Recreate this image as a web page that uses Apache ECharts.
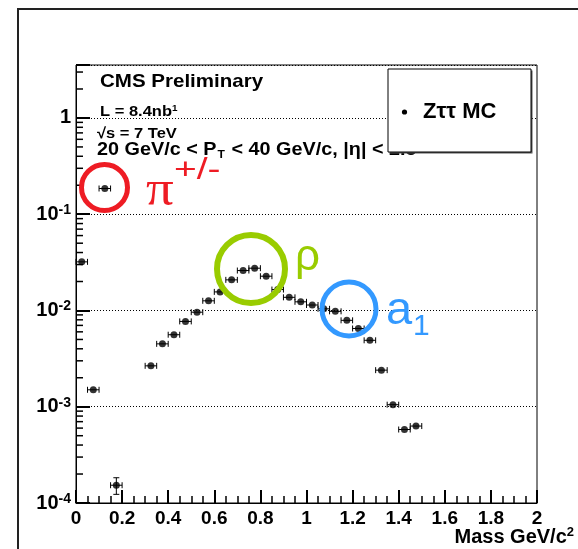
<!DOCTYPE html>
<html>
<head>
<meta charset="utf-8">
<script src="https://cdn.jsdelivr.net/npm/echarts@6/dist/echarts.min.js"></script>
<style>
html,body{margin:0;padding:0;background:#fff;}
#chart{width:578px;height:549px;}
</style>
</head>
<body>
<div id="chart"></div>
<script>
// ---- data ----
const massBins = [0.025, 0.075, 0.125, 0.175,
  0.325, 0.375, 0.425, 0.475, 0.525, 0.575, 0.625, 0.675, 0.725, 0.775,
  0.825, 0.875, 0.925, 0.975, 1.025, 1.075, 1.125, 1.175, 1.225, 1.275,
  1.325, 1.375, 1.425, 1.475];
const fractions = [0.032, 0.0015, 0.185, 0.000153,
  0.00266, 0.0045, 0.0056, 0.0077, 0.0096, 0.0126, 0.0156, 0.0208, 0.026, 0.0275,
  0.0227, 0.0165, 0.0137, 0.0123, 0.0114, 0.0104, 0.0098, 0.0079, 0.0065, 0.0049,
  0.0024, 0.00105, 0.00058, 0.00063];
const massHalfWidth = [0.025, 0.025, 0.025, 0.025,
  0.025, 0.025, 0.025, 0.025, 0.025, 0.025, 0.025, 0.025, 0.025, 0.025,
  0.025, 0.025, 0.025, 0.025, 0.025, 0.025, 0.025, 0.025, 0.025, 0.025,
  0.025, 0.025, 0.025, 0.025];
const fractionErr = [0, 0, 0, 0.00003,
  0, 0, 0, 0, 0, 0, 0, 0, 0, 0,
  0, 0, 0, 0, 0, 0, 0, 0, 0, 0,
  0, 0, 0, 0];
const seriesName = 'Z\u03c4\u03c4 MC';
const xTickLabels = ['0', '0.2', '0.4', '0.6', '0.8', '1', '1.2', '1.4', '1.6', '1.8', '2'];
const xMajorStep = 0.2;
const yMantissas = [2, 3, 4, 5, 6, 7, 8, 9];
const yDecades = [-4, -3, -2, -1, 0];
// ---------------------------------------

const yMinorTicks = [];
yDecades.forEach(d => yMantissas.forEach(m => {
  const v = m * Math.pow(10, d);
  if (v < 3.55) yMinorTicks.push(v);
}));

const FONT = '"Liberation Sans", Arial, Helvetica, sans-serif';
const TICK = '#000';
const chart = echarts.init(document.getElementById('chart'));

const pointData = massBins.map((m, i) => [m, fractions[i], massHalfWidth[i], fractionErr[i]]);

const option = {
  animation: false,
  backgroundColor: '#fff',
  grid: {left: 76, top: 65, right: 41, bottom: 46, show: true, borderColor: '#000', borderWidth: 1},
  xAxis: {
    type: 'value', min: 0, max: 2, interval: xMajorStep,
    axisLine: {show: true, onZero: false, lineStyle: {color: '#000', width: 1}},
    axisTick: {show: true, inside: true, length: 13, lineStyle: {color: TICK, width: 2}},
    minorTick: {show: true, splitNumber: 4, length: 7, lineStyle: {color: TICK, width: 1.5}},
    splitLine: {show: false},
    axisLabel: {
      color: '#000', fontFamily: FONT, fontWeight: 'bold', fontSize: 19, margin: 6,
      formatter: v => xTickLabels[Math.round(v / xMajorStep)] || ''
    }
  },
  yAxis: {
    type: 'log', logBase: 10, min: 1e-4, max: 3.55,
    axisLine: {show: true, lineStyle: {color: '#000', width: 1}},
    axisTick: {show: true, inside: true, length: 14, lineStyle: {color: TICK, width: 2}},
    splitLine: {show: true, lineStyle: {color: '#000', width: 1, type: [1, 2]}},
    axisLabel: {
      color: '#000', margin: 5,
      formatter: v => {
        const e = Math.log10(v), r = Math.round(e);
        if (Math.abs(e - r) > 0.01) return '';
        if (r === 0) return '{b|1}';
        return '{b|10}{s|' + r + '}';
      },
      rich: {
        b: {fontFamily: FONT, fontWeight: 'bold', fontSize: 20, lineHeight: 22, color: '#000'},
        s: {fontFamily: FONT, fontWeight: 'bold', fontSize: 14, lineHeight: 13, verticalAlign: 'top', color: '#000'}
      }
    }
  },
  series: [
    {
      type: 'custom', name: 'yMinorTicks', silent: true,
      data: yMinorTicks.map(v => [0, v]),
      renderItem: (params, api) => {
        const p = api.coord([0, api.value(1)]);
        return {type: 'group', children: [{type: 'line', shape: {x1: p[0], y1: p[1], x2: p[0] + 7, y2: p[1]}, style: {stroke: TICK, lineWidth: 1.5}}]};
      }
    },
    {
      type: 'custom', name: seriesName + ' errors', silent: true, z: 4,
      data: pointData,
      renderItem: (params, api) => {
        const x = api.value(0), y = api.value(1), ex = api.value(2), ey = api.value(3);
        const c = api.coord([x, y]);
        const l = api.coord([x - ex, y]);
        const r = api.coord([x + ex, y]);
        const st = {stroke: '#000', lineWidth: 1};
        const ch = [
          {type: 'line', shape: {x1: l[0], y1: c[1], x2: r[0], y2: c[1]}, style: st},
          {type: 'line', shape: {x1: l[0], y1: c[1] - 3, x2: l[0], y2: c[1] + 3}, style: st},
          {type: 'line', shape: {x1: r[0], y1: c[1] - 3, x2: r[0], y2: c[1] + 3}, style: st}
        ];
        if (ey > 0) {
          const t = api.coord([x, y + ey]), b = api.coord([x, y - ey]);
          ch.push({type: 'line', shape: {x1: c[0], y1: t[1], x2: c[0], y2: b[1]}, style: st});
          ch.push({type: 'line', shape: {x1: c[0] - 3, y1: t[1], x2: c[0] + 3, y2: t[1]}, style: st});
          ch.push({type: 'line', shape: {x1: c[0] - 3, y1: b[1], x2: c[0] + 3, y2: b[1]}, style: st});
        }
        return {type: 'group', children: ch};
      }
    },
    {
      type: 'scatter', name: seriesName, z: 5,
      symbol: 'circle', symbolSize: 7,
      itemStyle: {color: '#000'},
      data: pointData.map(d => [d[0], d[1]])
    }
  ],
  graphic: [
    {type: 'rect', shape: {x: 18, y: 9, width: 620, height: 620}, style: {fill: 'none', stroke: '#222', lineWidth: 2}, z: 1},
    {type: 'text', x: 100, y: 82, scaleX: 1.08, z: 10,
      style: {text: 'CMS Preliminary', font: 'bold 19px ' + FONT, fill: '#000', verticalAlign: 'middle'}},
    {type: 'text', x: 100, y: 112, scaleX: 1.1, z: 10,
      style: {text: '{b|L = 8.4nb}{s|1}', verticalAlign: 'middle',
        rich: {b: {fontFamily: FONT, fontWeight: 'bold', fontSize: 15, lineHeight: 16, fill: '#000'},
               s: {fontFamily: FONT, fontWeight: 'bold', fontSize: 9, lineHeight: 9, verticalAlign: 'top', fill: '#000'}}}},
    {type: 'text', x: 97, y: 134, scaleX: 1.1, z: 10,
      style: {text: '\u221as = 7 TeV', font: 'bold 15px ' + FONT, fill: '#000', verticalAlign: 'middle'}},
    {type: 'text', x: 97, y: 150, scaleX: 1.1, z: 10,
      style: {text: '{b|20 GeV/c < P}{t|T}{b| < 40 GeV/c, |\u03b7| < 2.5}', verticalAlign: 'middle',
        rich: {b: {fontFamily: FONT, fontWeight: 'bold', fontSize: 18, lineHeight: 20, fill: '#000'},
               t: {fontFamily: FONT, fontWeight: 'bold', fontSize: 11, lineHeight: 8, verticalAlign: 'bottom', padding: [0, 1, 0, 1], fill: '#000'}}}},
    {type: 'rect', shape: {x: 389.5, y: 70.5, width: 143, height: 83}, style: {fill: '#555'}, z: 11},
    {type: 'rect', shape: {x: 388, y: 69, width: 143, height: 83}, style: {fill: '#fff', stroke: '#000', lineWidth: 1}, z: 12},
    {type: 'circle', shape: {cx: 404.5, cy: 112, r: 2.6}, style: {fill: '#000'}, z: 13},
    {type: 'text', x: 423, y: 112, z: 13,
      style: {text: seriesName, font: 'bold 22px ' + FONT, fill: '#000', verticalAlign: 'middle'}},
    {type: 'circle', shape: {cx: 104.5, cy: 187.5, r: 23}, style: {fill: 'none', stroke: '#ee1c24', lineWidth: 5}, z: 20},
    {type: 'text', x: 146, y: 192, scaleX: 1.1, z: 20,
      style: {text: '\u03c0', font: '50px "Liberation Serif", "DejaVu Serif", serif', fill: '#ee1c24', verticalAlign: 'middle'}},
    {type: 'text', x: 174, y: 171, scaleX: 1.3, z: 20,
      style: {text: '+/-', font: '30px ' + FONT, fill: '#ee1c24', verticalAlign: 'middle'}},
    {type: 'circle', shape: {cx: 251, cy: 269, r: 34}, style: {fill: 'none', stroke: '#99cc00', lineWidth: 6}, z: 20},
    {type: 'text', x: 295, y: 258, z: 20,
      style: {text: '\u03c1', font: '44px ' + FONT, fill: '#99cc00', verticalAlign: 'middle'}},
    {type: 'circle', shape: {cx: 349, cy: 309, r: 27}, style: {fill: 'none', stroke: '#3399ff', lineWidth: 5}, z: 20},
    {type: 'text', x: 386, y: 311, z: 20,
      style: {text: 'a', font: '47px ' + FONT, fill: '#3399ff', verticalAlign: 'middle'}},
    {type: 'text', x: 413, y: 327, z: 20,
      style: {text: '1', font: '30px ' + FONT, fill: '#3399ff', verticalAlign: 'middle'}},
    {type: 'text', x: 574, y: 537, z: 10,
      style: {text: '{b|Mass GeV/c}{s|2}', align: 'right', verticalAlign: 'middle',
        rich: {b: {fontFamily: FONT, fontWeight: 'bold', fontSize: 20, lineHeight: 22, fill: '#000'},
               s: {fontFamily: FONT, fontWeight: 'bold', fontSize: 13, lineHeight: 12, verticalAlign: 'top', fill: '#000'}}}}
  ]
};
chart.setOption(option);
</script>
</body>
</html>
